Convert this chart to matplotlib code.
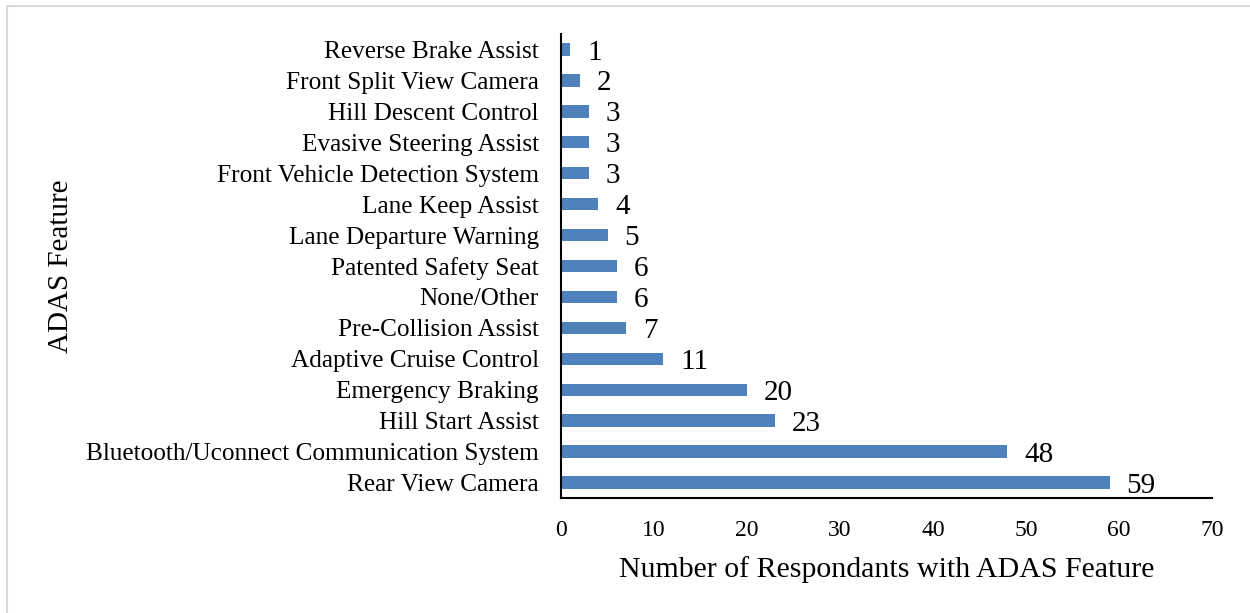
import matplotlib.pyplot as plt
from matplotlib.patches import Rectangle

features = [
    "Rear View Camera",
    "Bluetooth/Uconnect Communication System",
    "Hill Start Assist",
    "Emergency Braking",
    "Adaptive Cruise Control",
    "Pre-Collision Assist",
    "None/Other",
    "Patented Safety Seat",
    "Lane Departure Warning",
    "Lane Keep Assist",
    "Front Vehicle Detection System",
    "Evasive Steering Assist",
    "Hill Descent Control",
    "Front Split View Camera",
    "Reverse Brake Assist",
]
counts = [59, 48, 23, 20, 11, 7, 6, 6, 5, 4, 3, 3, 3, 2, 1]
xticks = [0, 10, 20, 30, 40, 50, 60, 70]

plt.rcParams['font.family'] = ['Liberation Serif', 'DejaVu Serif']

W, H = 1250, 613
fig = plt.figure(figsize=(W / 100, H / 100), dpi=100)
# light frame around the chart area (right/bottom edges fall outside the canvas)
fig.patches.append(Rectangle((7 / W, -0.1), 1.2, 1.1 - 6 / H,
                             transform=fig.transFigure, fill=False,
                             edgecolor='#d9d9d9', linewidth=1.5))

ax = fig.add_axes([561 / W, 1 - 498 / H, (1212 - 561) / W, (498 - 34) / H])
y = range(len(features))
ax.barh(y, counts, height=0.4, color='#4f81bd')
for yi, c in zip(y, counts):
    ax.text(c + 1.8, yi - 0.1, str(c), va='center', ha='left', fontsize=21)

ax.set_ylim(-0.5, len(features) - 0.5)
ax.set_xlim(0, 70)
ax.set_yticks(list(y))
ax.set_yticklabels(features, fontsize=18.2)
ax.set_xticks(xticks)
ax.set_xticklabels([str(t) for t in xticks], fontsize=17)
ax.tick_params(axis='both', length=0)
ax.tick_params(axis='y', pad=16)
ax.tick_params(axis='x', pad=16)
for s in ['top', 'right']:
    ax.spines[s].set_visible(False)
for s in ['left', 'bottom']:
    ax.spines[s].set_linewidth(1.5)
    ax.spines[s].set_color('black')

ax.set_xlabel("Number of Respondants with ADAS Feature", fontsize=21.5, labelpad=11)
fig.text(61 / W, 1 - 266 / H, "ADAS Feature", rotation=90, fontsize=21,
         ha='center', va='center')

fig.savefig("out.png", dpi=100)
